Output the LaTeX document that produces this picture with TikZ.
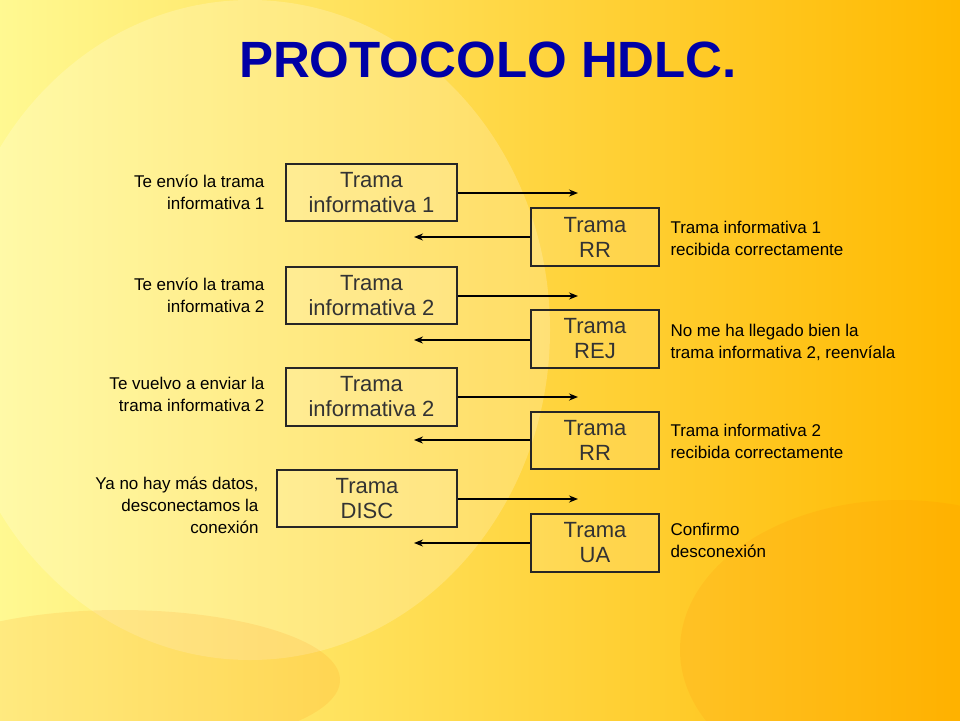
\documentclass[tikz,border=0pt]{standalone}
\usepackage{fontspec}
\setmainfont{Liberation Sans}
\usetikzlibrary{arrows.meta}
\begin{document}
\begin{tikzpicture}[x=1pt,y=-1pt,
  frame/.style={draw=black!85,line width=1.8pt,fill=white,fill opacity=0.12,text opacity=1,font=\fontsize{22}{25}\selectfont\color{black!80},align=center,inner sep=0pt},
  lab/.style={font=\fontsize{17}{22}\selectfont},
  conn/.style={line width=1.4pt,-{Stealth[length=9pt,width=7pt]}}]
\useasboundingbox (0,0) rectangle (960,720);
\shade[left color=yellow!40!white!95!orange, right color=orange!55!yellow] (0,0) rectangle (960,720);
\fill[white,opacity=0.2] (250,330) ellipse (300 and 330);
\fill[orange,opacity=0.12] (900,650) ellipse (220 and 150);
\fill[orange,opacity=0.12] (120,680) ellipse (220 and 70);
\node[font=\fontsize{51}{51}\selectfont\bfseries,text=blue!65!black] (title) at (488,60) {PROTOCOLO HDLC.};
% left boxes
\node[frame,minimum width=171,minimum height=57] (l1) at (371.5,192.5) {Trama\\informativa 1};
\node[frame,minimum width=171,minimum height=57] (l2) at (371.5,295.5) {Trama\\informativa 2};
\node[frame,minimum width=171,minimum height=58] (l3) at (371.5,397) {Trama\\informativa 2};
\node[frame,minimum width=180,minimum height=57] (l4) at (367,498.5) {Trama\\DISC};
% right boxes
\node[frame,minimum width=128,minimum height=58] (r1) at (595,237) {Trama\\RR};
\node[frame,minimum width=128,minimum height=58] (r2) at (595,339) {Trama\\REJ};
\node[frame,minimum width=128,minimum height=57] (r3) at (595,440.5) {Trama\\RR};
\node[frame,minimum width=128,minimum height=58] (r4) at (595,543) {Trama\\UA};
% free ends
\foreach \i/\ya/\yb in {1/193/237,2/296/340,3/397/440,4/499/543}{
  \coordinate (a\i) at (578,\ya);
  \coordinate (b\i) at (414,\yb);
  \draw[conn] (l\i.east |- a\i) -- (a\i);
  \draw[conn] (r\i.west |- b\i) -- (b\i);
}
% labels
\node[lab,align=right,anchor=east] (t1) at (268,192) {Te envío la trama\\informativa 1};
\node[lab,align=right,anchor=east] (t2) at (268,295) {Te envío la trama\\informativa 2};
\node[lab,align=right,anchor=east] (t3) at (268,394) {Te vuelvo a enviar la\\trama informativa 2};
\node[lab,align=right,anchor=east] (t4) at (262,505) {Ya no hay más datos,\\desconectamos la\\conexión};
\node[lab,align=left,anchor=west] (s1) at (667,238) {Trama informativa 1\\recibida correctamente};
\node[lab,align=left,anchor=west] (s2) at (667,342) {No me ha llegado bien la\\trama informativa 2, reenvíala};
\node[lab,align=left,anchor=west] (s3) at (667,441) {Trama informativa 2\\recibida correctamente};
\node[lab,align=left,anchor=west] (s4) at (667,540) {Confirmo\\desconexión};
\end{tikzpicture}
\end{document}
